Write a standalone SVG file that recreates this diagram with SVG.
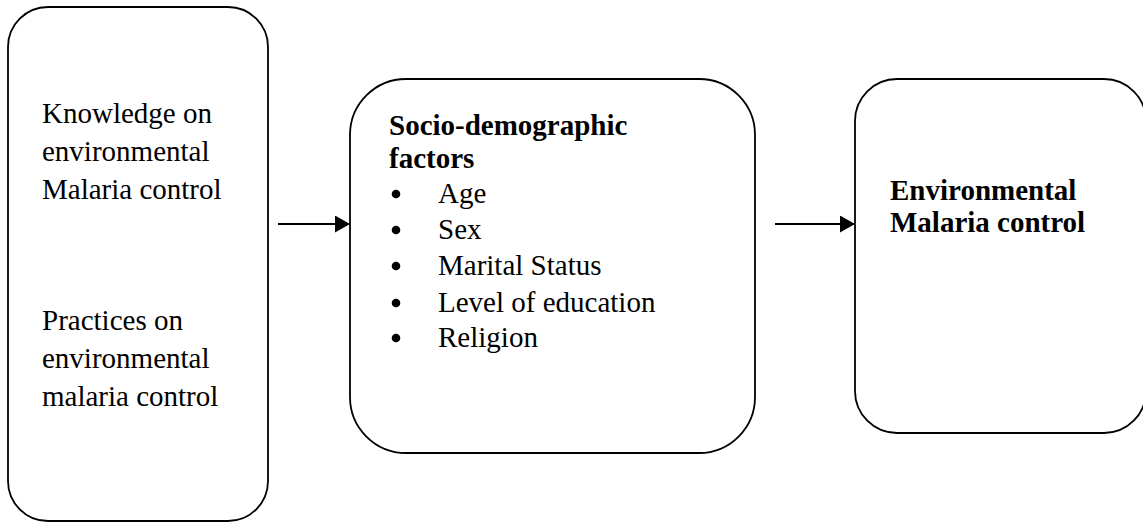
<svg xmlns="http://www.w3.org/2000/svg" width="1143" height="523" viewBox="0 0 1143 523">
<style>
.box{fill:#fff;stroke:#000;stroke-width:1.8}
.t{font-family:"Liberation Serif","Times New Roman",serif;font-size:29px;fill:#000}
.b{font-weight:bold}
.conn{stroke:#000;stroke-width:2;fill:none}
</style>
<defs>
<marker id="ah" markerUnits="userSpaceOnUse" markerWidth="16" markerHeight="17" refX="15" refY="8.5" orient="auto">
<path d="M0,0 L15,8.5 L0,17 Z" fill="#000"/>
</marker>
</defs>
<rect width="1143" height="523" fill="#fff"/>
<g id="node-knowledge">
<rect class="box" x="8" y="7" width="260" height="514" rx="40" ry="40"/>
<text class="t" x="42" y="123">Knowledge on</text>
<text class="t" x="42" y="161">environmental</text>
<text class="t" x="42" y="199">Malaria control</text>
<text class="t" x="42" y="330">Practices on</text>
<text class="t" x="42" y="368">environmental</text>
<text class="t" x="42" y="406">malaria control</text>
</g>
<g id="node-socio">
<rect class="box" x="350" y="79" width="405" height="374" rx="56" ry="56"/>
<text class="t b" x="389" y="135">Socio-demographic</text>
<text class="t b" x="389" y="168">factors</text>
<g fill="#000">
<circle cx="396" cy="194" r="4.3"/>
<circle cx="396" cy="230" r="4.3"/>
<circle cx="396" cy="266" r="4.3"/>
<circle cx="396" cy="303" r="4.3"/>
<circle cx="396" cy="338" r="4.3"/>
</g>
<text class="t" x="438" y="203">Age</text>
<text class="t" x="438" y="239">Sex</text>
<text class="t" x="438" y="275">Marital Status</text>
<text class="t" x="438" y="312">Level of education</text>
<text class="t" x="438" y="347">Religion</text>
</g>
<g id="node-outcome">
<rect class="box" x="855" y="79" width="291" height="354" rx="42" ry="42"/>
<text class="t b" x="890" y="200">Environmental</text>
<text class="t b" x="890" y="232">Malaria control</text>
</g>
<g id="connectors">
<line class="conn" x1="278" y1="224" x2="350" y2="224" marker-end="url(#ah)"/>
<line class="conn" x1="775" y1="224" x2="855" y2="224" marker-end="url(#ah)"/>
</g>
</svg>
